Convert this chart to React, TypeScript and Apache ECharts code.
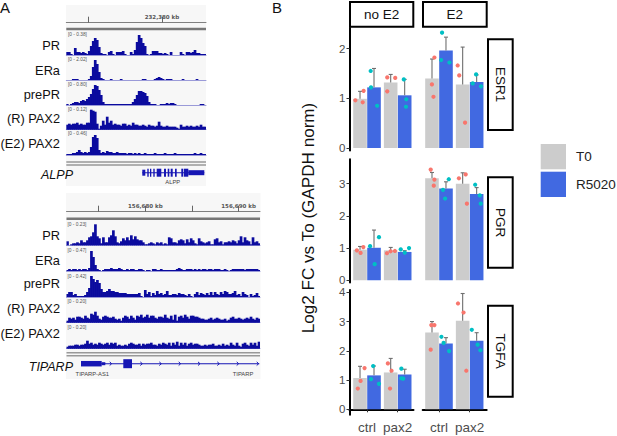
import React, { useEffect, useRef } from "react";
import * as echarts from "echarts";

const groupLabels = ["ctrl", "pax2"];
const seriesNames = ["T0", "R5020"];

// order of means and tops: [ctrl T0, ctrl R5020, pax2 T0, pax2 R5020]
const esr1NoE2Means = [0.99, 1.22, 1.32, 1.06];
const esr1NoE2Tops = [1.14, 1.6, 1.48, 1.38];
const esr1E2Means = [1.4, 1.96, 1.28, 1.33];
const esr1E2Tops = [1.79, 2.23, 2.03, 1.47];
const pgrNoE2Means = [0.95, 1.01, 0.93, 0.88];
const pgrNoE2Tops = [1.05, 1.56, 1.02, 0.92];
const pgrE2Means = [3.17, 2.85, 3.0, 2.68];
const pgrE2Tops = [3.35, 3.06, 3.34, 2.88];
const tgfaNoE2Means = [1.07, 1.16, 1.26, 1.19];
const tgfaNoE2Tops = [1.47, 1.48, 1.74, 1.37];
const tgfaE2Means = [2.63, 2.25, 3.03, 2.34];
const tgfaE2Tops = [3.0, 2.45, 3.96, 2.62];

const esr1NoE2T0Pts = [[0.62, 0.96], [0.86, 0.92], [0.89, 1.15], [1.66, 1.42], [1.92, 1.41], [1.66, 1.14]];
const esr1NoE2RPts = [[1.12, 1.55], [1.13, 1.22], [1.33, 0.85], [2.2, 1.38], [2.28, 0.98], [2.27, 0.83]];
const esr1E2T0Pts = [[0.77, 1.28], [0.85, 1.82], [0.82, 1.03], [1.61, 1.66], [1.66, 1.46], [1.85, 0.51]];
const esr1E2RPts = [[1.1, 2.32], [1.07, 1.77], [1.34, 1.72], [2.21, 1.48], [2.1, 1.3], [2.37, 1.24]];
const pgrNoE2T0Pts = [[0.67, 0.93], [0.79, 0.85], [0.88, 1.03], [1.65, 0.84], [1.77, 0.9], [1.91, 0.91]];
const pgrNoE2RPts = [[1.1, 1.06], [1.25, 0.5], [1.39, 1.34], [2.1, 0.96], [2.23, 0.86], [2.37, 1.0]];
const pgrE2T0Pts = [[0.73, 3.44], [0.85, 3.13], [0.83, 2.94], [1.65, 3.17], [1.87, 3.29], [1.91, 2.38]];
const pgrE2RPts = [[1.13, 2.81], [1.2, 2.54], [1.32, 3.14], [2.18, 2.97], [2.33, 2.64], [2.36, 2.38]];
const tgfaNoE2T0Pts = [[0.7, 0.71], [0.79, 0.97], [0.92, 1.41], [1.68, 1.57], [1.8, 1.32], [1.75, 0.71]];
const tgfaNoE2RPts = [[1.13, 1.03], [1.2, 1.48], [1.39, 0.87], [2.12, 1.39], [2.12, 1.06], [2.18, 1.05]];
const tgfaE2T0Pts = [[0.73, 2.04], [0.75, 2.88], [0.85, 2.88], [1.62, 3.62], [1.8, 3.31], [1.89, 1.32]];
const tgfaE2RPts = [[1.08, 2.48], [1.15, 2.27], [1.33, 1.99], [2.07, 2.72], [2.26, 2.21], [2.35, 2.02]];

const alppPR = [3,3,1,0,7,3,3,2,3,2,1,4,9,14,17,15,8,2,1,1,0,3,4,1,0,3,3,3,4,1,0,0,3,1,5,13,20,17,12,9,1,0,1,4,4,4,2,2,1,2,1,0,3,0,0,0,0,3,1,0,3,3,2,3,5,2,2,1,1,1];
const alppERa = [0,0,0,1,1,1,0,0,0,0,0,1,4,13,20,16,8,2,1,0,0,0,1,0,0,0,0,1,0,0,0,0,0,0,0,0,0,0,1,1,0,0,0,0,1,2,3,2,1,0,1,1,1,0,0,0,0,0,1,0,0,0,0,0,0,1,0,0,0,0];
const alppPrePR = [1,0,1,2,3,3,2,4,5,4,6,8,11,16,20,19,15,10,3,1,1,1,1,1,1,1,1,1,1,1,1,1,1,3,6,10,14,14,13,12,9,3,1,1,1,0,0,1,1,1,2,1,2,2,1,0,0,0,0,0,0,0,0,0,0,0,0,1,1,0];
const alppRPax2 = [5,6,5,6,6,7,5,6,5,5,7,7,20,19,18,6,1,4,9,5,13,7,9,5,6,5,5,4,6,6,4,5,4,7,5,5,4,4,5,4,3,5,4,4,3,4,8,4,3,3,4,3,3,3,3,2,1,5,3,3,4,3,4,3,3,4,3,5,3,3];
const alppE2Pax2 = [1,1,1,2,2,3,5,3,2,3,2,3,8,18,20,17,5,2,3,2,4,3,3,2,2,3,2,2,2,2,1,2,2,1,2,1,2,1,1,2,1,1,1,1,2,1,1,1,1,2,1,1,1,1,2,1,1,1,1,1,1,1,1,1,2,1,1,2,1,1];
const tipPR = [4,0,1,2,2,3,2,5,3,3,5,8,9,13,21,9,7,2,8,3,3,8,10,15,9,3,2,4,7,5,8,5,10,6,9,6,5,5,3,1,1,2,3,2,1,3,2,3,1,2,1,8,7,3,3,2,5,6,5,2,6,3,7,5,2,1,7,4,3,2,3,4,1,1,6,7,3,4,1,3,3,4,3,5,4,2,5,9,3,8,5,4,1,8,3,4,2];
const tipERa = [1,2,1,2,2,1,2,1,2,2,1,3,20,14,6,2,1,0,1,2,2,2,3,2,2,2,3,2,1,1,2,1,2,2,1,1,2,2,1,0,1,1,0,2,2,1,1,2,1,1,1,1,1,1,1,2,3,2,1,1,2,2,2,1,2,1,2,1,2,2,1,2,2,1,2,2,2,1,1,2,1,0,1,2,2,2,2,2,2,1,2,2,2,2,2,2,1];
const tipPrePR = [3,5,5,2,3,1,1,1,1,2,5,9,21,18,15,17,14,8,5,5,6,8,6,6,5,5,4,4,4,4,3,3,3,3,3,3,4,1,0,7,3,5,1,4,2,6,3,4,2,3,6,2,2,3,3,2,4,3,3,2,1,3,1,0,3,5,2,4,3,2,4,2,5,2,5,3,2,5,3,6,5,3,3,4,6,2,3,1,5,3,2,0,3,1,2,4,1];
const tipRPax2 = [2,5,4,5,3,6,6,5,4,7,5,4,9,8,11,7,4,3,6,7,6,5,5,6,4,3,4,2,5,7,6,4,7,5,3,7,6,8,5,6,8,5,7,7,5,4,6,6,5,8,5,4,7,3,8,2,6,7,5,8,6,4,7,7,6,6,5,4,4,3,3,4,5,3,4,5,4,3,3,4,2,3,5,6,4,4,5,4,3,4,5,4,6,4,3,5,4];
const tipE2Pax2 = [2,3,3,3,4,4,3,4,4,5,8,5,6,4,5,4,6,5,4,5,6,4,6,5,6,3,4,3,3,4,3,5,6,5,4,4,5,3,5,4,5,5,6,4,4,3,5,4,6,5,4,6,3,6,4,7,3,6,4,6,3,5,6,4,5,5,4,3,3,4,3,4,4,5,3,3,4,3,5,3,4,3,6,4,3,6,3,2,5,6,4,3,6,4,6,3,7];

const trackNames = ["PR", "ERa", "prePR", "(R) PAX2", "(E2) PAX2"];
const alppRanges = ["[0 - 0.38]", "[0 - 2.02]", "[0 - 0.80]", "[0 - 0.12]", "[0 - 0.46]"];
const tipRanges = ["[0 - 0.23]", "[0 - 0.47]", "[0 - 0.42]", "[0 - 0.20]", "[0 - 0.20]"];

const alppExons = [[76,138,1],[76,79,6],[81,82.4,8],[83.7,85,8],[87,88.4,8],[90.4,95,8],[97.7,99.7,8],[101.4,103,8],[104.4,106.4,8],[108.7,110.4,8],[115,117,8],[117.7,122,8],[122,138,5]];
const tipExons = [[14.5,192.8,1],[14.5,35.2,5.5],[35.2,38.8,3],[56.8,65.5,9]];
const tipArrows = [44.2,74.8,93.8,113.2,132.5,151.8,171.2,191.2];

const GRAY = "#CCCCCC";
const BLUE = "#4169E1";
const SALMON = "#F8766D";
const TEAL = "#00BFC4";
const NAVY = "#0B0B9E";
const FONT = "Liberation Sans";
const DODGE = 0.228;

function buildOption() {
  const grid: any[] = [];
  const xAxis: any[] = [];
  const yAxis: any[] = [];
  const series: any[] = [];
  const hiddenY = (i: number, min: number, max: number) => ({ type: "value", gridIndex: i, min, max, show: false });

  const addFacet = (
    box: { left: number; top: number; bottom: number; xmin: number; ymin: number; ymax: number; ticks: number[]; showY: boolean; showX: boolean },
    means: number[], tops: number[], t0Pts: number[][], rPts: number[][]
  ) => {
    const i = grid.length;
    grid.push({ left: box.left, top: box.top, width: 64, height: box.bottom - box.top });
    xAxis.push({
      type: "value", gridIndex: i, min: box.xmin, max: box.xmin + 64 / 30.67, show: box.showX, splitLine: { show: false },
      axisLine: { show: true, lineStyle: { color: "#000", width: 2 } },
      axisTick: { show: true, customValues: [1, 2], length: 3, lineStyle: { color: "#333", width: 1 } },
      axisLabel: { show: true, customValues: [1, 2], formatter: (v: number) => groupLabels[Math.round(v) - 1], color: "#4D4D4D", fontSize: 13.5, fontFamily: FONT, margin: 6 },
    });
    yAxis.push({
      type: "value", gridIndex: i, min: box.ymin, max: box.ymax, show: box.showY, splitLine: { show: false },
      axisLine: { show: true, onZero: false, lineStyle: { color: "#000", width: 2 } },
      axisTick: { show: true, customValues: box.ticks, length: 3, lineStyle: { color: "#333", width: 1 } },
      axisLabel: { show: true, customValues: box.ticks, color: "#4D4D4D", fontSize: 11.5, fontFamily: FONT, margin: 4 },
    });
    const t0 = [[1, means[0]], [2, means[2]]];
    const r = [[1, means[1]], [2, means[3]]];
    [t0, r].forEach((data, k) => series.push({
      type: "bar", name: seriesNames[k], xAxisIndex: i, yAxisIndex: i, data, barWidth: 13.6, barGap: "3%",
      itemStyle: { color: k === 0 ? GRAY : BLUE }, z: 2,
    }));
    const errs = [
      [1 - DODGE, means[0], tops[0]], [1 + DODGE, means[1], tops[1]],
      [2 - DODGE, means[2], tops[2]], [2 + DODGE, means[3], tops[3]],
    ];
    series.push({
      type: "custom", name: "error", xAxisIndex: i, yAxisIndex: i, data: errs, z: 3, clip: false,
      encode: { x: 0, y: [1, 2] },
      renderItem: (_: any, api: any) => {
        const a = api.coord([api.value(0), api.value(1)]);
        const b = api.coord([api.value(0), api.value(2)]);
        const st = { stroke: "#6F6F6F", lineWidth: 1.1 };
        return { type: "group", children: [
          { type: "line", shape: { x1: a[0], y1: a[1], x2: b[0], y2: b[1] }, style: st },
          { type: "line", shape: { x1: b[0] - 2, y1: b[1], x2: b[0] + 2, y2: b[1] }, style: st },
        ] };
      },
    });
    [t0Pts, rPts].forEach((data, k) => series.push({
      type: "scatter", name: "points " + seriesNames[k], xAxisIndex: i, yAxisIndex: i, data, symbolSize: 4.2,
      itemStyle: { color: k === 0 ? SALMON : TEAL, opacity: 1 }, z: 4,
    }));
  };

  const L1 = 349.5, L2 = 422.7, X1 = 0.429, X2 = 0.469;
  const esr1 = { top: 27.7, bottom: 150.5, ymin: -0.05, ymax: 2.42, ticks: [0, 1, 2] };
  const pgr = { top: 159.3, bottom: 282.5, ymin: -0.07, ymax: 3.76, ticks: [0, 1, 2, 3] };
  const tgfa = { top: 290, bottom: 414.7, ymin: -0.185, ymax: 4.08, ticks: [0, 1, 2, 3, 4] };
  addFacet({ ...esr1, left: L1, xmin: X1, showY: true, showX: false }, esr1NoE2Means, esr1NoE2Tops, esr1NoE2T0Pts, esr1NoE2RPts);
  addFacet({ ...esr1, left: L2, xmin: X2, showY: false, showX: false }, esr1E2Means, esr1E2Tops, esr1E2T0Pts, esr1E2RPts);
  addFacet({ ...pgr, left: L1, xmin: X1, showY: true, showX: false }, pgrNoE2Means, pgrNoE2Tops, pgrNoE2T0Pts, pgrNoE2RPts);
  addFacet({ ...pgr, left: L2, xmin: X2, showY: false, showX: false }, pgrE2Means, pgrE2Tops, pgrE2T0Pts, pgrE2RPts);
  addFacet({ ...tgfa, left: L1, xmin: X1, showY: true, showX: true }, tgfaNoE2Means, tgfaNoE2Tops, tgfaNoE2T0Pts, tgfaNoE2RPts);
  addFacet({ ...tgfa, left: L2, xmin: X2, showY: false, showX: true }, tgfaE2Means, tgfaE2Tops, tgfaE2T0Pts, tgfaE2RPts);

  const addTrack = (left: number, width: number, baseline: number, values: number[]) => {
    const i = grid.length;
    grid.push({ left, top: baseline - 24, width, height: 24 });
    xAxis.push({
      type: "category", gridIndex: i, data: values.map((_, k) => String(k)), boundaryGap: true,
      axisLine: { show: true, lineStyle: { color: "#9A9AD8", width: 1 } }, axisTick: { show: false }, axisLabel: { show: false }, splitLine: { show: false },
    });
    yAxis.push(hiddenY(i, 0, 24));
    series.push({
      type: "bar", name: "track", xAxisIndex: i, yAxisIndex: i, data: values, barWidth: 2.7,
      itemStyle: { color: NAVY }, z: 2,
    });
  };
  const topBase = [55, 80, 105, 129.7, 155];
  const botBase = [245.3, 271, 297, 322.7, 348.7];
  [alppPR, alppERa, alppPrePR, alppRPax2, alppE2Pax2].forEach((v, k) => addTrack(66.3, 139.7, topBase[k], v));
  [tipPR, tipERa, tipPrePR, tipRPax2, tipE2Pax2].forEach((v, k) => addTrack(66.5, 193.5, botBase[k], v));

  const addRuler = (left: number, width: number, top: number, min: number, max: number, ticks: number[], labels: number[]) => {
    const i = grid.length;
    grid.push({ left, top, width, height: 1 });
    xAxis.push({
      type: "value", gridIndex: i, min, max, position: "top", splitLine: { show: false },
      axisLine: { show: true, lineStyle: { color: "#808080", width: 1 } },
      axisTick: { show: true, customValues: ticks, length: 6, lineStyle: { color: "#666", width: 1 } },
      axisLabel: {
        show: true, customValues: labels, margin: 2, fontSize: 5.5, fontWeight: "bold", color: "#555", fontFamily: "DejaVu Sans",
        formatter: (v: number) => v.toLocaleString("en-US") + " kb",
      },
    });
    yAxis.push(hiddenY(i, 0, 1));
  };
  addRuler(66.3, 139.7, 21.7, 232373.49, 232383, [232375, 232380], [232380]);
  addRuler(66.5, 193.5, 210.7, 156671.55, 156692.3, [156675, 156680, 156685, 156690], [156680, 156690]);

  const addGene = (left: number, width: number, centre: number, exons: number[][], arrows: number[]) => {
    const i = grid.length;
    grid.push({ left, top: centre - 6, width, height: 12 });
    xAxis.push({ type: "value", gridIndex: i, min: 0, max: width, show: false });
    yAxis.push(hiddenY(i, -6, 6));
    series.push({
      type: "custom", name: "exons", xAxisIndex: i, yAxisIndex: i, data: exons, clip: false, z: 2,
      encode: { x: [0, 1], y: 2 },
      renderItem: (_: any, api: any) => {
        const h = api.value(2);
        const a = api.coord([api.value(0), h / 2]);
        const b = api.coord([api.value(1), -h / 2]);
        return { type: "rect", shape: { x: a[0], y: a[1], width: b[0] - a[0], height: b[1] - a[1] }, style: { fill: "#1616B4" } };
      },
    });
    if (arrows.length) series.push({
      type: "custom", name: "strand", xAxisIndex: i, yAxisIndex: i, data: arrows.map((x) => [x, 0]), clip: false, z: 2,
      encode: { x: 0, y: 1 },
      renderItem: (_: any, api: any) => {
        const p = api.coord([api.value(0), 0]);
        return { type: "polyline", shape: { points: [[p[0] - 1, p[1] - 1.8], [p[0] + 1, p[1]], [p[0] - 1, p[1] + 1.8]] }, style: { stroke: "#1616B4", fill: "none", lineWidth: 1 } };
      },
    });
  };
  addGene(66.3, 139.7, 172.7, alppExons, []);
  addGene(66.5, 193.5, 363.7, tipExons, tipArrows);

  const txt = (text: string, x: number, y: number, fontSize: number, extra: any = {}, rotation = 0) => ({
    type: "text", x, y, rotation,
    style: { text, fontSize, fontFamily: FONT, fill: "#111", align: "center", verticalAlign: "middle", ...extra },
  });
  const box = (x: number, y: number, width: number, height: number) => ({
    type: "rect", shape: { x, y, width, height }, style: { fill: "#fff", stroke: "#000", lineWidth: 2 },
  });
  const hline = (x1: number, x2: number, y: number, w: number, c: string) => ({
    type: "line", shape: { x1, y1: y, x2, y2: y }, style: { stroke: c, lineWidth: w },
  });
  const topLabelY = [45, 70, 94, 118, 143];
  const botLabelY = [235, 260, 283, 308, 333];
  const topRangeY = [34.3, 59, 84, 109, 133.5];
  const botRangeY = [224, 250, 276, 301, 327];
  const graphicEls: any[] = [
    { type: "rect", shape: { x: 66, y: 5, width: 140, height: 181 }, style: { fill: "#F7F7F7" } },
    { type: "rect", shape: { x: 66, y: 193, width: 194.5, height: 186 }, style: { fill: "#F7F7F7" } },
    hline(66.3, 206, 29, 2.4, "#777"),
    hline(66.3, 206, 162, 1.5, "#999"),
    hline(66.3, 206, 165, 1.5, "#999"),
    hline(66.5, 260, 218.7, 2.4, "#777"),
    hline(66.5, 260, 352.7, 1.5, "#999"),
    hline(66.5, 260, 355.7, 1.5, "#999"),
    txt("A", 5, 7, 15),
    txt("B", 277, 7, 15),
    txt("ALPP", 73, 175, 12.5, { align: "right", fontStyle: "italic" }),
    txt("TIPARP", 73, 367, 12.5, { align: "right", fontStyle: "italic" }),
    txt("ALPP", 172.7, 182.3, 5.8, { fill: "#444" }),
    txt("TIPARP-AS1", 92.3, 374.3, 5.8, { fill: "#444" }),
    txt("TIPARP", 243, 374.3, 5.8, { fill: "#444" }),
    box(350, 2, 63.3, 24.7),
    box(423, 2, 63.7, 24.7),
    txt("no E2", 381.7, 14.7, 13.5),
    txt("E2", 454.8, 14.7, 13.5),
    box(488, 39.3, 24.7, 90.7),
    box(488, 177.3, 24.7, 90.4),
    box(488, 305.7, 24.7, 91),
    txt("ESR1", 500.5, 84.7, 13.5, {}, -Math.PI / 2),
    txt("PGR", 500.5, 222.5, 13.5, {}, -Math.PI / 2),
    txt("TGFA", 500.5, 351.2, 13.5, {}, -Math.PI / 2),
    txt("Log2 FC vs To (GAPDH norm)", 308, 218, 17.1, {}, Math.PI / 2),
  ];
  trackNames.forEach((name, k) => {
    graphicEls.push(txt(name, 60, topLabelY[k], 12.8, { align: "right" }));
    graphicEls.push(txt(name, 60, botLabelY[k], 12.8, { align: "right" }));
    graphicEls.push(txt(alppRanges[k], 68, topRangeY[k], 4.8, { align: "left", fill: "#555" }));
    graphicEls.push(txt(tipRanges[k], 67.5, botRangeY[k], 4.8, { align: "left", fill: "#555" }));
  });

  return {
    animation: false,
    backgroundColor: "#fff",
    grid, xAxis, yAxis, series,
    legend: {
      show: true, data: seriesNames.map((name) => ({ name, icon: "rect" })), orient: "vertical", left: 540.7, top: 144,
      itemWidth: 25.3, itemHeight: 25.3, itemGap: 2.4, padding: 0, selectedMode: false,
      textStyle: { fontSize: 13.5, fontFamily: FONT, color: "#222", padding: [0, 0, 0, 5] },
    },
    graphic: { elements: graphicEls },
  };
}

export default function App() {
  const ref = useRef<HTMLDivElement>(null);
  useEffect(() => {
    const chart = echarts.init(ref.current!, undefined, { renderer: "svg" });
    chart.setOption(buildOption() as any);
    return () => chart.dispose();
  }, []);
  return <div ref={ref} style={{ position: "absolute", left: 0, top: 0, width: 617, height: 436 }} />;
}
